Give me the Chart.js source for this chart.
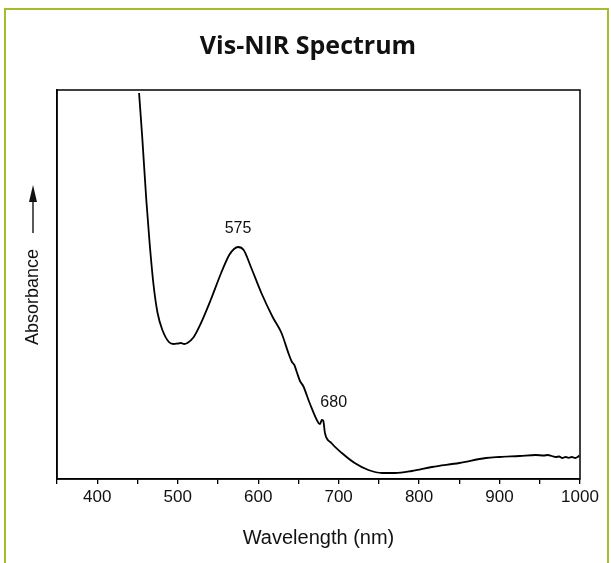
<!DOCTYPE html>
<html>
<head>
<meta charset="utf-8">
<script src="https://cdn.jsdelivr.net/npm/chart.js@4"></script>
<style>
  html, body { margin: 0; padding: 0; background: #fff; overflow: hidden; }
  #frame { position: absolute; left: 4px; top: 8px; width: 601px; height: 600px;
           border: 2px solid #a8bb2d; border-bottom: none; }
  #myChart { position: absolute; left: 0; top: 0; }
</style>
</head>
<body>
<div id="frame"></div>
<canvas id="myChart" width="611" height="563"></canvas>
<script>
// wavelength (nm) and absorbance (a.u.)
var wavelengths = [452, 456, 461, 465, 470, 475, 481, 489, 495, 500, 504, 508, 512, 520, 529, 541, 554, 564, 570, 575,
  582, 591, 604, 618, 629, 638, 642, 645, 648, 652, 656, 664, 675, 677, 679, 681, 683, 691, 704, 720,
  737, 754, 770, 791, 816, 850, 883, 900, 925, 945, 955, 960, 965, 970, 974, 978, 982, 986, 990, 994, 997, 999];
var absorbance = [3.86, 3.41, 2.79, 2.37, 1.94, 1.66, 1.49, 1.37, 1.35, 1.355, 1.36, 1.35, 1.36, 1.42, 1.56, 1.79, 2.06, 2.24, 2.30, 2.32,
  2.29, 2.12, 1.86, 1.62, 1.46, 1.25, 1.17, 1.14, 1.07, 0.98, 0.93, 0.76, 0.56, 0.55, 0.59, 0.58, 0.46, 0.36, 0.26, 0.16,
  0.09, 0.06, 0.06, 0.08, 0.12, 0.16, 0.21, 0.22, 0.23, 0.24, 0.235, 0.24, 0.23, 0.22, 0.225, 0.21, 0.22, 0.212, 0.22, 0.21, 0.22, 0.235];

// peak labels
var peakLabels = ['575', '680'];
var peakX = [575, 679];
var peakY = [2.32, 0.59];

var points = wavelengths.map(function(w, i) { return {x: w, y: absorbance[i]}; });

var font = "'Liberation Sans', Arial, sans-serif";

var extras = {
  id: 'extras',
  afterDraw: function(chart) {
    var c = chart.ctx, a = chart.chartArea;
    var xs = chart.scales.x, ys = chart.scales.y;
    c.save();
    // box round the plot
    c.strokeStyle = '#000';
    c.lineWidth = 1.5;
    c.strokeRect(a.left, a.top, a.right - a.left, a.bottom - a.top);
    // peak labels
    c.fillStyle = '#111';
    c.font = '16px ' + font;
    c.textAlign = 'center';
    c.textBaseline = 'middle';
    c.fillText(peakLabels[0], xs.getPixelForValue(peakX[0]), ys.getPixelForValue(peakY[0]) - 18);
    c.fillText(peakLabels[1], xs.getPixelForValue(peakX[1]) + 12, ys.getPixelForValue(peakY[1]) - 17);
    // y title with arrow
    c.translate(33, 297);
    c.rotate(-Math.PI / 2);
    c.font = '18px ' + font;
    c.fillText('Absorbance', 0, 0);
    c.beginPath();
    c.moveTo(64, 0);
    c.lineTo(100, 0);
    c.lineWidth = 1.3;
    c.stroke();
    c.beginPath();
    c.moveTo(112, 0);
    c.lineTo(95, -4);
    c.lineTo(95, 4);
    c.closePath();
    c.fill();
    c.restore();
  }
};

var chart = new Chart(document.getElementById('myChart').getContext('2d'), {
  type: 'line',
  data: {
    datasets: [{
      label: 'Absorbance',
      data: points,
      borderColor: '#000',
      borderWidth: 1.8,
      pointRadius: 0,
      fill: false,
      cubicInterpolationMode: 'monotone'
    }]
  },
  options: {
    responsive: false,
    animation: false,
    layout: { padding: { left: 36, right: 31, top: 0, bottom: 0 } },
    plugins: {
      legend: { display: false },
      tooltip: { enabled: false },
      title: {
        display: true,
        text: 'Vis-NIR Spectrum',
        color: '#111',
        font: { family: "'Open Sans', sans-serif", size: 25, weight: 'bold' },
        padding: { top: 32, bottom: 28 }
      }
    },
    scales: {
      x: {
        type: 'linear',
        min: 350,
        max: 1000,
        afterFit: function(axis) { axis.height = 84; },
        grid: { display: true, drawOnChartArea: false, drawTicks: true, tickLength: 5, color: '#000', lineWidth: 1.3 },
        border: { display: true, color: '#000', width: 1.5 },
        ticks: {
          stepSize: 50,
          autoSkip: false,
          maxRotation: 0,
          padding: 3,
          color: '#111',
          font: { family: font, size: 17 },
          callback: function(v) { return v % 100 === 0 ? v : ''; }
        },
        title: {
          display: true,
          text: 'Wavelength (nm)',
          color: '#111',
          font: { family: font, size: 20 },
          padding: { top: 4, bottom: 13 }
        }
      },
      y: {
        min: 0,
        max: 3.89,
        afterFit: function(axis) { axis.width = 21; },
        grid: { display: false },
        border: { display: true, color: '#000', width: 1.5 },
        ticks: { display: false }
      }
    }
  },
  plugins: [extras]
});
</script>
</body>
</html>
